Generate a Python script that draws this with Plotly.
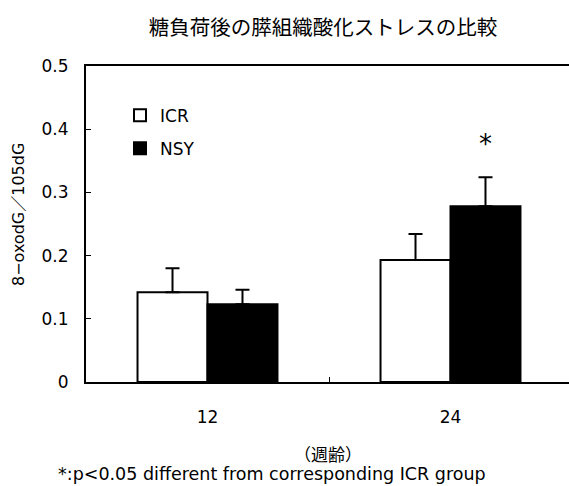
import plotly.graph_objects as go

# Oxidative stress in pancreatic tissue after glucose load
weeks = ["12", "24"]
icr_mean = [0.142, 0.193]
icr_sem = [0.038, 0.041]
nsy_mean = [0.123, 0.278]
nsy_sem = [0.023, 0.046]
sig_label = "*"
sig_y = 0.376

FONT = "DejaVu Sans, Noto Sans CJK JP"
JP_FONT = "Noto Sans CJK JP"
BARGAP = 0.424

fig = go.Figure()
fig.add_trace(go.Bar(
    name="ICR", x=weeks, y=icr_mean, legendgroup="icr",
    marker=dict(color="white", line=dict(color="black", width=2)),
    error_y=dict(type="data", array=icr_sem, arrayminus=[0] * len(weeks),
                 symmetric=False, color="black", thickness=2, width=7),
))
fig.add_trace(go.Bar(
    name="NSY", x=weeks, y=nsy_mean, legendgroup="nsy",
    marker=dict(color="black", line=dict(color="black", width=2)),
    error_y=dict(type="data", array=nsy_sem, arrayminus=[0] * len(weeks),
                 symmetric=False, color="black", thickness=2, width=7),
))

# significance marker above the 24-week NSY bar
bar_w = (1 - BARGAP) / 2
fig.add_annotation(x=1 + bar_w / 2, y=sig_y, xref="x", yref="y", text=sig_label,
                   showarrow=False, yanchor="middle",
                   font=dict(family=FONT, size=26, color="black"))

fig.add_annotation(x=(18 - 86) / 483, y=(382 - 215) / 316, xref="paper", yref="paper",
                   text="8−oxodG／105dG", textangle=-90, showarrow=False,
                   xanchor="center", yanchor="middle",
                   font=dict(family=FONT, size=16, color="black"))
fig.add_annotation(x=(328 - 86) / 483, y=(382 - 454) / 316, xref="paper", yref="paper",
                   text="（週齢）", showarrow=False, xanchor="center", yanchor="middle",
                   font=dict(family=JP_FONT, size=17, color="black"))
fig.add_annotation(x=(56 - 86) / 483, y=(382 - 474) / 316, xref="paper", yref="paper",
                   xanchor="left", yanchor="middle",
                   text="*:p&lt;0.05 different from corresponding ICR group",
                   showarrow=False, font=dict(family=FONT, size=17.5, color="black"))

fig.update_layout(
    width=569, height=486,
    margin=dict(l=86, r=0, t=66, b=104),
    paper_bgcolor="white", plot_bgcolor="white",
    barmode="group", bargap=BARGAP, bargroupgap=0,
    title=dict(text="糖負荷後の膵組織酸化ストレスの比較", x=323 / 569, xanchor="center",
               y=1 - 28 / 486, yanchor="middle", xref="container", yref="container",
               font=dict(family=JP_FONT, size=20.5, color="black")),
    font=dict(family=FONT, size=16, color="black"),
    legend=dict(x=(120 - 86) / 483, y=0.9, xanchor="left", yanchor="top",
                traceorder="grouped", tracegroupgap=8, bgcolor="rgba(0,0,0,0)",
                font=dict(family=FONT, size=17, color="black")),
    xaxis=dict(range=[-0.5, -0.5 + 483 / 243], showline=True, linecolor="black",
               linewidth=2, mirror=True, ticks="inside", ticklen=5, tickwidth=1,
               tickcolor="black", tickson="boundaries", showgrid=False,
               ticklabelstandoff=19, tickfont=dict(family=FONT, size=17)),
    yaxis=dict(range=[0, 0.5], showline=True, linecolor="black",
               linewidth=2, ticks="inside", ticklen=5, tickwidth=1, tickcolor="black",
               showgrid=False, zeroline=False, ticklabelstandoff=12,
               tickvals=[0, 0.1, 0.2, 0.3, 0.4, 0.5],
               ticktext=["0", "0.1", "0.2", "0.3", "0.4", "0.5"],
               tickfont=dict(family=FONT, size=17)),
)

fig.write_html("out.html")
